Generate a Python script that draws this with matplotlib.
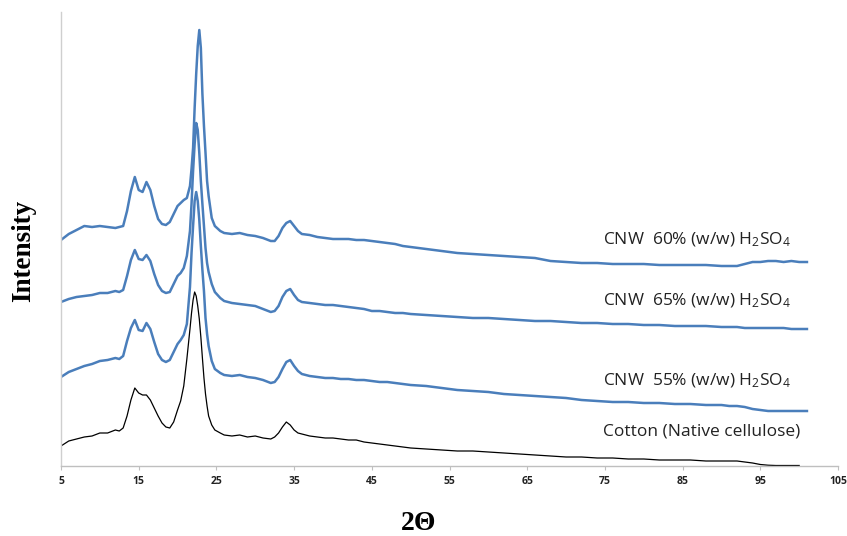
import numpy as np
import matplotlib
matplotlib.use("Agg")
from matplotlib import pyplot as plt

# 2-theta grid (degrees)
two_theta = [5, 6, 7, 8, 9, 10, 11, 12, 12.5, 13,
             13.5, 14, 14.5, 15, 15.5, 16, 16.5, 17, 17.5, 18,
             18.5, 19, 19.5, 20, 20.4, 20.8, 21.2, 21.6, 21.8, 22.0,
             22.2, 22.4, 22.6, 22.8, 23.0, 23.2, 23.4, 23.6, 23.8, 24.0,
             24.4, 24.8, 25.5, 26, 27, 28, 29, 30, 31, 32,
             32.5, 33, 33.5, 34, 34.5, 35, 35.5, 36, 37, 38,
             39, 40, 41, 42, 43, 44, 45, 46, 47, 48,
             49, 50, 52, 54, 56, 58, 60, 62, 64, 66,
             68, 70, 72, 74, 76, 78, 80, 82, 84, 86,
             88, 90, 91, 92, 93, 94, 95, 96, 97, 98,
             99, 100, 101]

# intensities (a.u., curves already offset as in the figure)
cotton = [20, 25, 27, 29, 30, 33, 33, 36, 35, 38,
          50, 66, 78, 73, 71, 71, 66, 58, 50, 43,
          39, 38, 44, 56, 65, 80, 107, 137, 153, 166,
          174, 170, 160, 147, 129, 108, 88, 72, 60, 50,
          41, 36, 33, 31, 30, 31, 29, 30, 28, 27,
          29, 33, 39, 44, 41, 36, 33, 32, 30, 29,
          28, 28, 27, 26, 26, 24, 23, 22, 21, 20,
          19, 18, 17, 16, 15, 15, 14, 13, 12, 11,
          10, 9, 9, 8, 8, 7, 7, 6, 6, 6,
          5, 5, 5, 5, 4, 3, 1.5, 0.8, 0.5, 0.5,
          0.5, 0.5, np.nan]

cnw_55 = [89, 94, 97, 100, 102, 105, 106, 108, 107, 110,
          125, 138, 146, 136, 135, 143, 137, 124, 112, 106,
          104, 106, 114, 122, 126, 131, 142, 179, 213, 240,
          265, 274, 265, 246, 220, 196, 175, 148, 132, 120,
          105, 97, 93, 91, 90, 91, 89, 88, 86, 83,
          84, 89, 97, 104, 106, 100, 95, 92, 90, 89,
          88, 88, 87, 87, 86, 86, 85, 84, 84, 83,
          82, 81, 80, 78, 76, 75, 74, 72, 71, 70,
          69, 68, 66, 65, 64, 64, 63, 63, 62, 62,
          61, 61, 60, 60, 59, 57, 56, 55, 55, 55,
          55, 55, 55]

cnw_65 = [164, 167, 169, 170, 171, 173, 173, 175, 174, 176,
          190, 206, 216, 207, 206, 211, 205, 192, 181, 175,
          173, 174, 182, 190, 193, 198, 210, 235, 262, 295,
          322, 343, 336, 313, 285, 262, 240, 218, 203, 194,
          182, 174, 168, 165, 163, 162, 161, 160, 157, 154,
          155, 160, 169, 175, 177, 171, 166, 164, 163, 162,
          161, 161, 160, 159, 158, 157, 155, 155, 154, 153,
          153, 152, 151, 150, 149, 148, 148, 147, 146, 145,
          145, 144, 143, 143, 142, 142, 141, 141, 140, 140,
          140, 139, 139, 139, 138, 138, 138, 138, 138, 138,
          137, 137, 137]

cnw_60 = [226, 232, 236, 240, 239, 240, 239, 238, 239, 240,
          255, 275, 289, 276, 274, 284, 276, 260, 247, 242,
          241, 244, 252, 260, 263, 266, 268, 280, 297, 318,
          358, 392, 420, 436, 418, 372, 340, 313, 285, 270,
          248, 240, 235, 233, 232, 233, 231, 230, 228, 225,
          225, 230, 238, 243, 245, 240, 235, 232, 231, 229,
          228, 227, 227, 227, 226, 226, 225, 224, 223, 222,
          220, 219, 217, 215, 213, 212, 211, 210, 209, 208,
          205, 204, 203, 203, 202, 202, 202, 201, 201, 201,
          201, 200, 200, 200, 202, 204, 204, 205, 205, 204,
          205, 204, 204]

labels = ["CNW  60% (w/w) H$_2$SO$_4$",
          "CNW  65% (w/w) H$_2$SO$_4$",
          "CNW  55% (w/w) H$_2$SO$_4$",
          "Cotton (Native cellulose)"]
label_y = [226, 165, 85, 34]

plt.rcParams["mathtext.fontset"] = "custom"
plt.rcParams["mathtext.rm"] = "Open Sans"
plt.rcParams["mathtext.it"] = "Open Sans"

fig = plt.figure(figsize=(8.47, 5.36), dpi=100)
ax = fig.add_axes([0.072, 0.1306, 0.9174, 0.847])

blue = "#4a7ebb"
ax.plot(two_theta, cotton, color="black", lw=0.9)
ax.plot(two_theta, cnw_55, color=blue, lw=1.8)
ax.plot(two_theta, cnw_65, color=blue, lw=1.8)
ax.plot(two_theta, cnw_60, color=blue, lw=1.8)

for txt, yy in zip(labels, label_y):
    ax.text(74.8, yy, txt, fontsize=12.5, family="Open Sans", color="#222222",
            va="center", ha="left")

ax.set_xlim(5, 105)
ax.set_ylim(0, 454)
ax.set_xticks(range(5, 106, 10))
ax.set_yticks([])
for lab in ax.get_xticklabels():
    lab.set_fontsize(7.5)
    lab.set_fontweight("bold")
    lab.set_family("Open Sans")
ax.tick_params(axis="x", length=3, color="#bfbfbf", pad=4, labelcolor="#222222")
for s in ["top", "right"]:
    ax.spines[s].set_visible(False)
ax.spines["bottom"].set_color("#bfbfbf")
ax.spines["left"].set_color("#cfcfcf")
ax.spines["bottom"].set_linewidth(1.0)
ax.spines["left"].set_linewidth(1.0)

fig.text(23.5 / 847, 1 - 251 / 536, "Intensity", rotation=90, fontsize=19.5,
         fontweight="bold", family="Liberation Serif", ha="center", va="center")
fig.text(419 / 847, 1 - 524 / 536, "2\u0398", fontsize=20, fontweight="bold",
         family="Liberation Serif", ha="center", va="center")

fig.savefig("out.png", dpi=100)
